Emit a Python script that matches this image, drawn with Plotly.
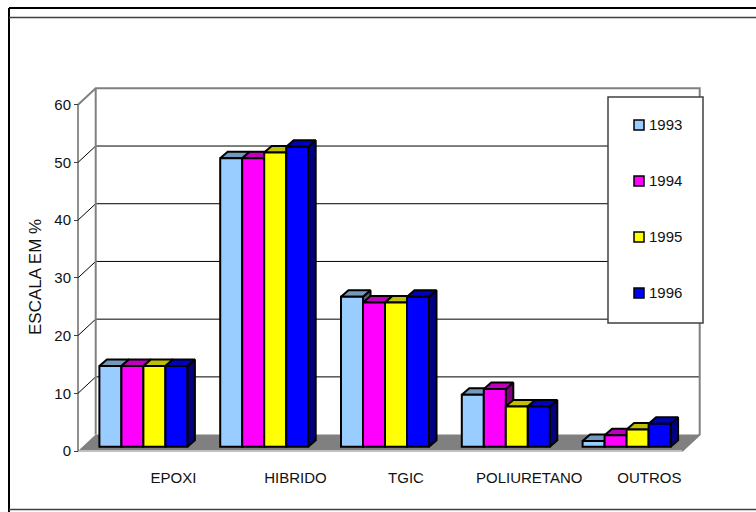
import plotly.graph_objects as go

# Chart data
categories = ["EPOXI", "HIBRIDO", "TGIC", "POLIURETANO", "OUTROS"]
years = ["1993", "1994", "1995", "1996"]
v1993 = [14, 50, 26, 9, 1]
v1994 = [14, 50, 25, 10, 2]
v1995 = [14, 51, 25, 7, 3]
v1996 = [14, 52, 26, 7, 4]
series = [v1993, v1994, v1995, v1996]
y_ticks = [0, 10, 20, 30, 40, 50, 60]

front_colors = ["#99CCFF", "#FF00FF", "#FFFF00", "#0000FF"]
top_colors = ["#7399BF", "#BF00BF", "#BFBF00", "#0000BF"]
side_colors = ["#4D6680", "#800080", "#808000", "#000080"]

# Canvas and front-plane geometry
W, H = 756, 512
LEFT, RIGHT, TOP, BOTTOM = 78, 682, 104.7, 451
UX = (RIGHT - LEFT) / 5
UY = (BOTTOM - TOP) / 60
X0, X1 = -0.5, 4.5

# Pseudo-3D projection, expressed in axis units
WALL_DX, WALL_DY = 17.7 / UX, 16.4 / UY
BAR_SHIFT_X, BAR_BASE = 5 / UX, 4.2 / UY
BAR_W = 22 / UX
BAR_DX, BAR_DY = 7.5 / UX, 6.5 / UY
LABEL_SHIFT = [0.29, 0.30, 0.215, 0.235, 0.23]

FONT = "Liberation Sans, Arial, sans-serif"
INK = "#111111"
OUTLINE = 2


def fx(p):
    return p / W


def fy(p):
    return 1 - p / H


def poly(xs, ys, fill, line=None, width=0):
    return go.Scatter(
        x=xs, y=ys, mode="lines", fill="toself", fillcolor=fill,
        line=dict(color=line or fill, width=width), showlegend=False,
        hoverinfo="skip",
    )


def path(xs, ys, color, width):
    return go.Scatter(
        x=xs, y=ys, mode="lines", line=dict(color=color, width=width),
        showlegend=False, hoverinfo="skip",
    )


fig = go.Figure()

# Floor of the chart box
fig.add_trace(poly([X0, X1, X1 + WALL_DX, X0 + WALL_DX],
                   [0, 0, WALL_DY, WALL_DY], "#808080"))

# Gridlines along the back wall and their diagonals on the side wall
for t in y_ticks[1:-1]:
    fig.add_trace(path([X0, X0 + WALL_DX, X1 + WALL_DX],
                       [t, t + WALL_DY, t + WALL_DY], "#000000", 1))

# Back wall outline
y_top = y_ticks[-1]
fig.add_trace(path(
    [X0, X0 + WALL_DX, X1 + WALL_DX, X1 + WALL_DX, X1],
    [y_top, y_top + WALL_DY, y_top + WALL_DY, WALL_DY, 0], "#808080", 2))
fig.add_trace(path([X0 + WALL_DX, X0 + WALL_DX],
                   [WALL_DY, y_top + WALL_DY], "#808080", 2))
fig.add_trace(path([X0, X1], [0, 0], "#C0C0C0", 2))
fig.add_trace(path([X0, X0], [0, y_top], "#202020", 1))

# Side and top faces of each bar
for g in range(len(categories)):
    for s, values in enumerate(series):
        v = values[g] + BAR_BASE
        left = g + (s - 2) * BAR_W + BAR_SHIFT_X
        right = left + BAR_W
        fig.add_trace(poly(
            [right, right + BAR_DX, right + BAR_DX, right, right],
            [BAR_BASE, BAR_BASE + BAR_DY, v + BAR_DY, v, BAR_BASE],
            side_colors[s], "#000000", OUTLINE))
        fig.add_trace(poly(
            [left, right, right + BAR_DX, left + BAR_DX, left],
            [v, v, v + BAR_DY, v + BAR_DY, v],
            top_colors[s], "#000000", OUTLINE))

# Front faces live on an overlaid subplot so they stay above the depth faces
for s, values in enumerate(series):
    fig.add_trace(go.Bar(
        x=[g + (s - 1.5) * BAR_W + BAR_SHIFT_X for g in range(len(categories))],
        y=values, base=BAR_BASE, width=BAR_W, name=years[s],
        marker=dict(color=front_colors[s], line=dict(color="#000000", width=OUTLINE)),
        showlegend=False, xaxis="x2", yaxis="y2",
    ))

# Outer frame rules
frame = [
    (9, 8, 756, 8, "#000000", 2),
    (9, 8, 9, 512, "#000000", 2),
    (9, 17.5, 756, 17.5, "#404040", 1.5),
    (9, 509.5, 756, 509.5, "#404040", 1.5),
]
shapes = [
    dict(type="line", xref="paper", yref="paper", layer="above",
         x0=fx(a), y0=fy(b), x1=fx(c), y1=fy(d),
         line=dict(color=col, width=w))
    for a, b, c, d, col, w in frame
]

# Legend panel with its swatches and labels
shapes.append(dict(
    type="rect", xref="paper", yref="paper", layer="above",
    x0=fx(608), x1=fx(703), y0=fy(97), y1=fy(323),
    fillcolor="#FFFFFF", line=dict(color="#404040", width=1.5),
))
annotations = []
for i, year in enumerate(years):
    cy = 125 + 56 * i
    shapes.append(dict(
        type="rect", xref="paper", yref="paper", layer="above",
        x0=fx(634), x1=fx(644), y0=fy(cy - 5), y1=fy(cy + 5),
        fillcolor=front_colors[i], line=dict(color="#000000", width=1.5),
    ))
    annotations.append(dict(
        text=year, xref="paper", yref="paper", x=fx(646.5), y=fy(cy - 0.5),
        xanchor="left", yanchor="middle", showarrow=False,
        font=dict(family=FONT, size=15, color=INK),
    ))

# Rotated axis caption
annotations.append(dict(
    text="ESCALA EM %", xref="paper", yref="paper", x=fx(35), y=fy(277),
    xanchor="center", yanchor="middle",
    textangle=-90, showarrow=False, font=dict(family=FONT, size=17, color=INK),
))

x_range = [X0 - LEFT / UX, X0 + (W - LEFT) / UX]
y_range = [(BOTTOM - H) / UY, BOTTOM / UY]

fig.update_layout(
    width=W, height=H, autosize=False,
    margin=dict(l=0, r=0, t=0, b=0, pad=0),
    paper_bgcolor="#FFFFFF", plot_bgcolor="rgba(0,0,0,0)",
    font=dict(family=FONT, size=15, color=INK),
    barmode="overlay", shapes=shapes, annotations=annotations, showlegend=False,
    xaxis=dict(
        range=x_range, anchor="free", position=fy(BOTTOM),
        showgrid=False, zeroline=False, showline=False,
        tickmode="array",
        tickvals=[i + d for i, d in enumerate(LABEL_SHIFT)],
        ticktext=categories, ticks="", ticklabelstandoff=16,
    ),
    yaxis=dict(
        range=y_range, anchor="free", position=fx(LEFT),
        showgrid=False, zeroline=False, showline=False,
        tickmode="array", tickvals=y_ticks, ticks="outside", ticklen=4,
        tickcolor="#404040", tickwidth=1,
    ),
    xaxis2=dict(overlaying="x", matches="x", visible=False),
    yaxis2=dict(overlaying="y", matches="y", visible=False),
)

fig.write_html("out.html")
